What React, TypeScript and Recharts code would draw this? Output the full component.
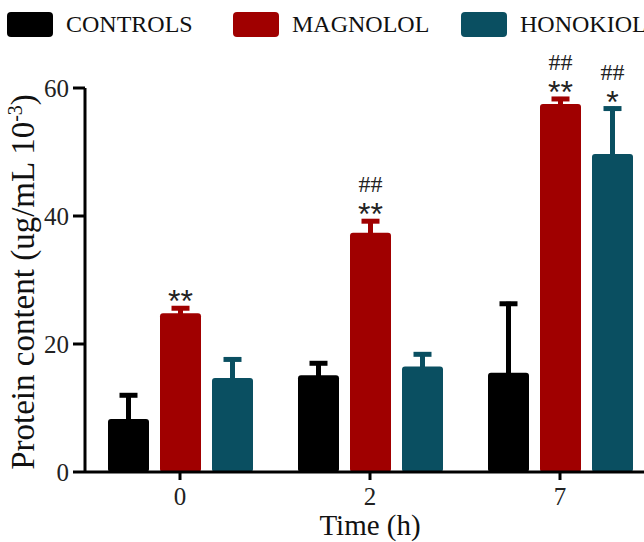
import { BarChart, Bar, XAxis, YAxis, LabelList } from "recharts";

const times = ["0", "2", "7"];
const controls = [8.3, 15.1, 15.5];
const controlsErr = [4.0, 2.2, 11.1];
const magnolol = [24.8, 37.4, 57.5];
const magnololErr = [1.1, 2.1, 1.1];
const honokiol = [14.7, 16.5, 49.7];
const honokiolErr = [3.2, 2.2, 7.4];
const magnololStars = ["**", "**", "**"];
const magnololHash = ["", "##", "##"];
const honokiolStars = ["", "", "*"];
const honokiolHash = ["", "", "##"];
const yTicks = [0, 20, 40, 60];

const series = [
  { key: "controls", name: "CONTROLS", color: "#000000" },
  { key: "magnolol", name: "MAGNOLOL", color: "#a00000" },
  { key: "honokiol", name: "HONOKIOL", color: "#0a4f61" },
];

const data = times.map((t, i) => ({
  time: t,
  controls: controls[i],
  magnolol: magnolol[i],
  honokiol: honokiol[i],
}));

const SERIF = "'Liberation Serif', 'DejaVu Serif', serif";
const SANS = "'Liberation Sans', Arial, sans-serif";

// bar with an upward-only error bar, error converted with the bar's own pixel scale
const barWithError = (errs: number[], color: string) => (props: any) => {
  const { x, y, width, height, value, index } = props;
  const perUnit = value ? height / value : 0;
  const top = y - errs[index] * perUnit;
  const cx = x + width / 2;
  return (
    <g>
      <line x1={cx} x2={cx} y1={y + 1} y2={top} stroke={color} strokeWidth={5} />
      <line x1={cx - 9} x2={cx + 9} y1={top + 2} y2={top + 2} stroke={color} strokeWidth={5} />
      <rect x={x} y={y} width={width} height={height} rx={3} ry={3} fill={color} />
    </g>
  );
};

// significance marks above the error bar cap
const sigLabel = (errs: number[], stars: string[], hashes: string[]) => (props: any) => {
  const { x, y, width, height, value, index } = props;
  const star = stars[index];
  const hash = hashes[index];
  if (!star && !hash) return null;
  const perUnit = value ? height / value : 0;
  const capY = y - errs[index] * perUnit;
  const cx = x + width / 2;
  return (
    <g>
      {star && (
        <text x={cx} y={capY + 6} textAnchor="middle" fontFamily={SANS} fontSize={32} fill="#222">
          {star}
        </text>
      )}
      {hash && (
        <text x={cx} y={capY - 27} textAnchor="middle" fontFamily={SERIF} fontSize={24} fill="#222">
          {hash}
        </text>
      )}
    </g>
  );
};

const legendLeft = [7, 233, 461];

export default function App() {
  return (
    <div style={{ position: "absolute", left: 0, top: 0, width: 644, height: 542, overflow: "hidden", background: "#fff" }}>
      {series.map((s, i) => (
        <div key={s.key} style={{ position: "absolute", left: legendLeft[i], top: 12, display: "flex", alignItems: "center", whiteSpace: "nowrap" }}>
          <div style={{ width: 46, height: 25, borderRadius: 4, background: s.color }} />
          <span style={{ marginLeft: 13, fontFamily: SERIF, fontSize: 24, color: "#111", lineHeight: "25px" }}>
            {s.name}
          </span>
        </div>
      ))}
      <svg width={60} height={542} style={{ position: "absolute", left: 0, top: 0 }}>
        <text x={34} y={282} transform="rotate(-90 34 282)" textAnchor="middle" fontFamily={SERIF} fontSize={33} fill="#111">
          Protein content (ug/mL 10
          <tspan dy={-12} fontSize={20}>-3</tspan>
          <tspan dy={12}>)</tspan>
        </text>
      </svg>
      <div style={{ position: "absolute", left: 0, top: 0 }}>
        <BarChart
          width={662}
          height={542}
          data={data}
          margin={{ top: 88, right: 7, bottom: 0, left: 0 }}
          barSize={41}
          barGap={11}
        >
          <XAxis
            dataKey="time"
            height={70}
            tickSize={8}
            tickMargin={7}
            axisLine={{ stroke: "#000", strokeWidth: 3 }}
            tickLine={{ stroke: "#000", strokeWidth: 3 }}
            tick={{ fontFamily: SERIF, fontSize: 25, fill: "#222" }}
            label={{ value: "Time (h)", position: "insideBottom", offset: 7, fontFamily: SERIF, fontSize: 29, fill: "#111" }}
          />
          <YAxis
            width={85}
            domain={[0, 60]}
            ticks={yTicks}
            tickSize={12}
            tickMargin={4}
            axisLine={{ stroke: "#000", strokeWidth: 3 }}
            tickLine={{ stroke: "#000", strokeWidth: 3 }}
            tick={{ fontFamily: SERIF, fontSize: 25, fill: "#222" }}
          />
          <Bar dataKey="controls" name="CONTROLS" fill="#000000" isAnimationActive={false} shape={barWithError(controlsErr, "#000000")} />
          <Bar dataKey="magnolol" name="MAGNOLOL" fill="#a00000" isAnimationActive={false} shape={barWithError(magnololErr, "#a00000")}>
            <LabelList dataKey="magnolol" content={sigLabel(magnololErr, magnololStars, magnololHash)} />
          </Bar>
          <Bar dataKey="honokiol" name="HONOKIOL" fill="#0a4f61" isAnimationActive={false} shape={barWithError(honokiolErr, "#0a4f61")}>
            <LabelList dataKey="honokiol" content={sigLabel(honokiolErr, honokiolStars, honokiolHash)} />
          </Bar>
        </BarChart>
      </div>
    </div>
  );
}
